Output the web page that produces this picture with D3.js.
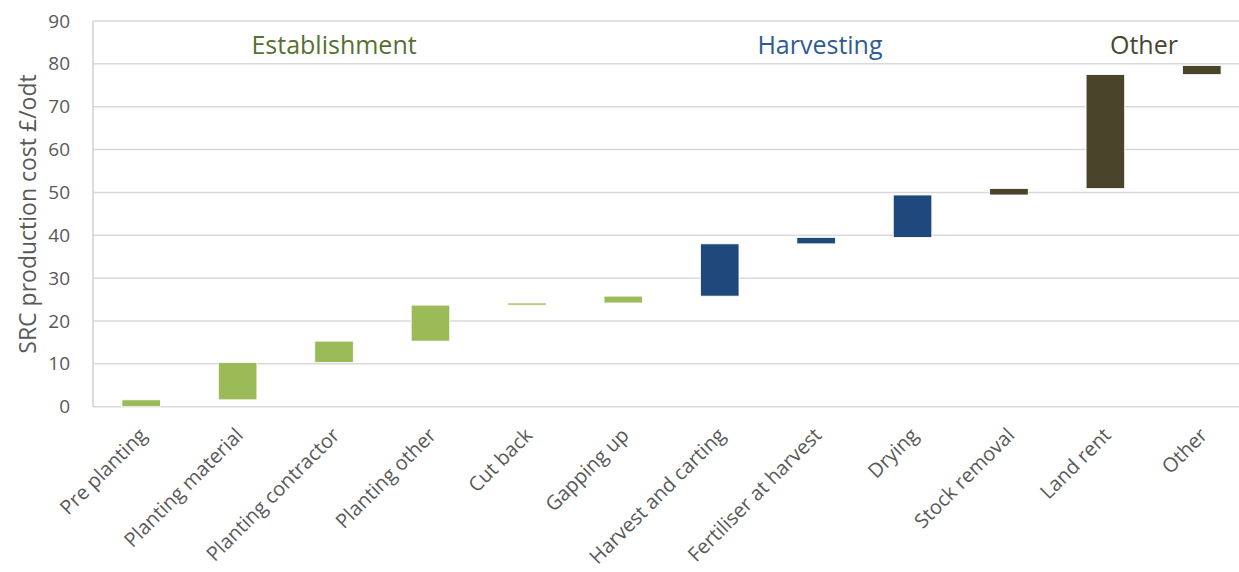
<!DOCTYPE html>
<html>
<head>
<meta charset="utf-8">
<script src="https://cdn.jsdelivr.net/npm/d3@7"></script>
<style>
  html, body { margin: 0; padding: 0; background: #ffffff; }
  svg { display: block; font-family: "Open Sans", "Noto Sans", sans-serif; }
</style>
</head>
<body>
<svg id="chart" width="1239" height="572"></svg>
<script>
// Cost items, in the order they accumulate
const categories = [
  "Pre planting", "Planting material", "Planting contractor", "Planting other",
  "Cut back", "Gapping up", "Harvest and carting", "Fertiliser at harvest",
  "Drying", "Stock removal", "Land rent", "Other"
];
// Cost of each item, £/odt
const costs = [1.6, 8.7, 5.0, 8.4, 0.5, 1.6, 12.2, 1.5, 9.9, 1.5, 26.6, 2.1];
// Stage each item belongs to
const stages = [
  "Establishment", "Establishment", "Establishment", "Establishment",
  "Establishment", "Establishment", "Harvesting", "Harvesting",
  "Harvesting", "Other", "Other", "Other"
];
// Stage headings and the category position they sit over
const stageNames = ["Establishment", "Harvesting", "Other"];
const stagePositions = [2.0, 7.04, 10.4];
const yTicks = [0, 10, 20, 30, 40, 50, 60, 70, 80, 90];

const barColor = { "Establishment": "#9bbb59", "Harvesting": "#1f497d", "Other": "#4a452a" };
const headColor = { "Establishment": "#576f31", "Harvesting": "#2f5b93", "Other": "#4a4533" };

const svg = d3.select("#chart");
const plotLeft = 93, plotRight = 1250, plotTop = 21, plotBottom = 406.7;

const x = d3.scaleBand().domain(categories).range([plotLeft, plotRight])
  .paddingInner(0.6).paddingOuter(0.3);
const y = d3.scaleLinear().domain([0, 90]).range([plotBottom, plotTop]);

// Running totals give each floating bar its start and end
let run = 0;
const bars = categories.map((c, i) => {
  const start = run;
  run += costs[i];
  return { cat: c, start: start, end: run, stage: stages[i] };
});

// Gridlines
svg.append("g").selectAll("line").data(yTicks).join("line")
  .attr("x1", plotLeft).attr("x2", 1239)
  .attr("y1", d => y(d)).attr("y2", d => y(d))
  .attr("stroke", "#d9d9d9").attr("stroke-width", 1.5);

// Left edge of the plot area
svg.append("line")
  .attr("x1", plotLeft).attr("x2", plotLeft).attr("y1", y(90)).attr("y2", y(0))
  .attr("stroke", "#d0d0d0").attr("stroke-width", 1.5);

// Y axis tick labels
const yAxis = d3.axisLeft(y).tickValues(yTicks).tickSize(0).tickPadding(23);
const gy = svg.append("g").attr("transform", `translate(${plotLeft},0)`).call(yAxis);
gy.select(".domain").remove();
gy.selectAll("text")
  .attr("fill", "#595959").style("font-size", "19px")
  .style("font-family", "'Open Sans', sans-serif");

// Y axis title
svg.append("text")
  .attr("transform", "translate(36,214) rotate(-90)")
  .attr("text-anchor", "middle")
  .attr("fill", "#595959").style("font-size", "23px")
  .text("SRC production cost £/odt");

// Floating bars
svg.append("g").selectAll("rect").data(bars).join("rect")
  .attr("x", d => x(d.cat))
  .attr("width", x.bandwidth())
  .attr("y", d => y(d.end))
  .attr("height", d => y(d.start) - y(d.end))
  .attr("fill", d => barColor[d.stage])
  .attr("stroke", "#ffffff").attr("stroke-width", 0.8);

// X axis labels, rotated
const xAxis = d3.axisBottom(x).tickSize(0).tickPadding(0);
const gx = svg.append("g").attr("transform", `translate(0,${plotBottom})`).call(xAxis);
gx.select(".domain").remove();
gx.selectAll("text")
  .attr("fill", "#595959").style("font-size", "20px")
  .style("font-family", "'Open Sans', sans-serif")
  .attr("text-anchor", "end")
  .attr("dy", null).attr("y", null)
  .attr("transform", "translate(3,26) rotate(-45)")
  .attr("dominant-baseline", "middle");

// Stage headings
const xCenter = p => x(categories[0]) + x.bandwidth() / 2 + p * x.step();
svg.append("g").selectAll("text").data(stageNames).join("text")
  .attr("x", (d, i) => xCenter(stagePositions[i]))
  .attr("y", 54)
  .attr("text-anchor", "middle")
  .attr("fill", d => headColor[d])
  .style("font-size", "25px")
  .text(d => d);
</script>
</body>
</html>
